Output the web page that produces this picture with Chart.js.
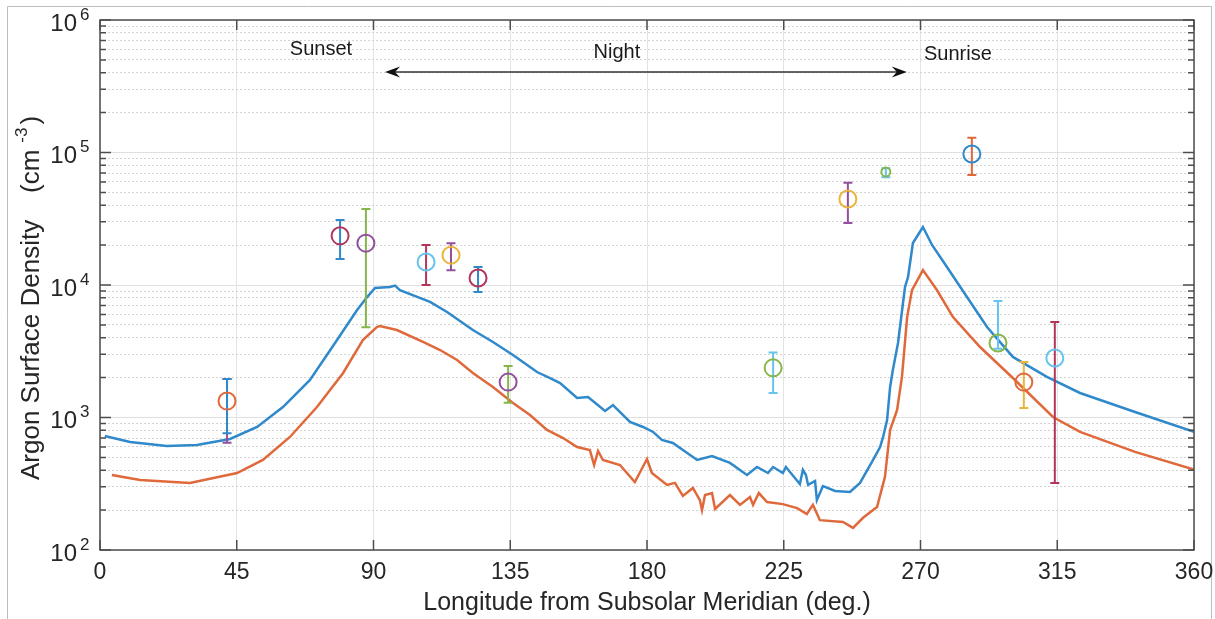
<!DOCTYPE html>
<html>
<head>
<meta charset="utf-8">
<title>Argon Surface Density</title>
<script src="https://cdn.jsdelivr.net/npm/chart.js@4.4.0/dist/chart.umd.min.js"></script>
<style>
  html, body { margin: 0; padding: 0; background: #fff; }
  #wrap { position: relative; width: 1215px; height: 619px; }
</style>
</head>
<body>
<div id="wrap"><canvas id="argonChart" width="1215" height="619"></canvas></div>
<script>
// model curve 1 (blue)
const blueLon = [1.6, 9.9, 22.0, 31.9, 42.8, 51.7, 60.2, 69.1, 78.0, 84.6, 87.9, 90.5, 95.4, 97.1, 98.7,
  108.6, 114.2, 122.7, 129.3, 135.9, 141.5, 143.8, 148.1, 151.4, 157.0, 160.6, 166.2, 168.8, 174.4, 178.7,
  182.0, 184.9, 188.5, 196.5, 201.4, 207.3, 212.9, 216.2, 219.8, 221.5, 224.7, 225.7, 230.3, 231.3, 232.3,
  233.0, 235.3, 235.9, 237.9, 241.9, 246.8, 250.1, 254.4, 256.7, 257.7, 259.0, 260.0, 260.9, 262.6, 264.9,
  265.9, 267.5, 270.8, 273.8, 278.7, 285.3, 291.9, 300.4, 311.6, 322.5, 340.6, 360];
const blueDen = [725, 653, 609, 620, 689, 848, 1199, 1919, 3846, 6470, 8110, 9490, 9660, 9900, 9160,
  7450, 6250, 4570, 3715, 2965, 2404, 2204, 1986, 1820, 1403, 1429, 1120, 1242, 925, 848,
  778, 677, 642, 478, 512, 454, 368, 423, 381, 423, 381, 423, 315, 402, 368,
  310, 332, 238, 304, 279, 274, 321, 478, 598, 713, 957, 1699, 2280, 3648, 9660,
  11480, 20730, 27400, 20050, 13680, 8110, 4820, 2865, 2024, 1531, 1100, 780];

// model curve 2 (orange)
const orangeLon = [3.9, 13.2, 29.6, 45.1, 53.6, 62.5, 71.4, 80.0, 86.5, 91.1, 92.1, 97.7, 106.3, 111.9, 117.5,
  122.7, 129.3, 135.9, 141.5, 147.1, 152.4, 157.0, 161.2, 162.6, 163.9, 165.5, 171.1, 176.0, 180.0, 181.6,
  186.6, 189.2, 191.8, 195.1, 197.4, 198.1, 199.1, 201.4, 202.4, 207.3, 210.6, 213.9, 214.9, 216.8, 219.5,
  224.7, 229.4, 232.6, 234.6, 236.9, 244.5, 247.8, 251.1, 255.7, 258.3, 260.0, 262.3, 263.9, 265.6, 267.2,
  270.8, 275.4, 280.7, 289.6, 300.4, 313.6, 322.5, 340.6, 360];
const orangeDen = [368, 337, 321, 381, 478, 713, 1199, 2168, 3846, 4820, 4910, 4570, 3715, 3230, 2715,
  2168, 1699, 1285, 1045, 805, 700, 598, 568, 438, 559, 478, 438, 326, 486, 381,
  310, 321, 256, 294, 238, 200, 260, 269, 204, 260, 219, 251, 219, 269, 230,
  222, 207, 187, 219, 168, 163, 147, 175, 211, 356, 805, 1140, 2024, 5725, 9160,
  12970, 9160, 5725, 3404, 1986, 1009, 778, 550, 405];

// observations (circles)
const obsLon = [41.8, 79.0, 87.5, 107.3, 115.5, 124.4, 134.3, 221.5, 246.1, 258.6, 286.9, 295.5, 304.0, 314.2];
const obsDen = [1330, 23500, 20700, 14900, 16800, 11300, 1850, 2370, 44600, 71300, 97500, 3650, 1850, 2810];

// error bars
const errLon = [41.8, 41.8, 79.0, 87.5, 107.3, 115.5, 124.4, 134.3, 221.5, 246.1, 258.6, 286.9, 295.5, 304.0, 314.2];
const errLow = [645, 760, 15700, 4800, 10000, 12900, 8850, 1290, 1530, 29400, 65000, 67500, 3300, 1180, 320];
const errHigh = [1950, 1950, 31000, 37500, 20000, 20700, 13700, 2450, 3100, 59000, 76000, 129000, 7570, 2620, 5260];

// axes
const xTicks = [0, 45, 90, 135, 180, 225, 270, 315, 360];
const yPowers = [2, 3, 4, 5, 6];
const supDigits = { 2: '2', 3: '3', 4: '4', 5: '5', 6: '6' };

// styles
const palette = {
  blue: '#2f89cb', orange: '#e0693b', yellow: '#ebb43a', purple: '#92509e',
  green: '#86b64a', cyan: '#66c4ee', darkred: '#b3365a'
};
const obsColor = ['orange', 'darkred', 'purple', 'cyan', 'yellow', 'darkred', 'purple', 'green', 'yellow', 'green', 'blue', 'green', 'orange', 'cyan'];
const errColor = ['purple', 'blue', 'blue', 'green', 'darkred', 'purple', 'blue', 'green', 'cyan', 'purple', 'cyan', 'orange', 'cyan', 'yellow', 'darkred'];

const FONT = "'Liberation Sans', Arial, Helvetica, sans-serif";
const TEXT = '#262626';

const yTickValues = [];
yPowers.forEach(p => {
  if (p === yPowers[yPowers.length - 1]) { yTickValues.push(Math.pow(10, p)); return; }
  for (let m = 1; m <= 9; m++) yTickValues.push(m * Math.pow(10, p));
});
const isMajor = v => yPowers.some(p => v === Math.pow(10, p));

const toPoints = (xs, ys) => xs.map((x, i) => ({ x: x, y: ys[i] }));

const decorations = {
  id: 'decorations',
  beforeDraw(chart) {
    const ctx = chart.ctx;
    ctx.save();
    ctx.fillStyle = '#fff';
    ctx.fillRect(0, 0, chart.width, chart.height);
    // outer frame of the picture
    ctx.strokeStyle = '#bdbdbd';
    ctx.lineWidth = 1;
    ctx.beginPath();
    ctx.moveTo(7.5, chart.height);
    ctx.lineTo(7.5, 6.5);
    ctx.lineTo(1211.5, 6.5);
    ctx.lineTo(1211.5, chart.height);
    ctx.stroke();
    ctx.restore();
  },
  beforeDatasetDraw(chart, args) {
    if (args.index !== 2) return;
    const ctx = chart.ctx;
    const xs = chart.scales.x, ys = chart.scales.y;
    const cap = 4.5;
    ctx.save();
    ctx.lineWidth = 2;
    errLon.forEach((lon, i) => {
      const x = xs.getPixelForValue(lon);
      const y1 = ys.getPixelForValue(errLow[i]);
      const y2 = ys.getPixelForValue(errHigh[i]);
      ctx.strokeStyle = palette[errColor[i]];
      ctx.beginPath();
      ctx.moveTo(x, y1); ctx.lineTo(x, y2);
      ctx.moveTo(x - cap, y1); ctx.lineTo(x + cap, y1);
      ctx.moveTo(x - cap, y2); ctx.lineTo(x + cap, y2);
      ctx.stroke();
    });
    ctx.restore();
  },
  afterDraw(chart) {
    const ctx = chart.ctx;
    const xs = chart.scales.x, ys = chart.scales.y;
    const a = chart.chartArea;
    ctx.save();
    // axis box
    ctx.strokeStyle = '#4d4d4d';
    ctx.lineWidth = 1.5;
    ctx.strokeRect(a.left, a.top, a.right - a.left, a.bottom - a.top);
    // inward ticks
    ctx.beginPath();
    xTicks.forEach(v => {
      const x = xs.getPixelForValue(v);
      ctx.moveTo(x, a.bottom); ctx.lineTo(x, a.bottom - 10);
      ctx.moveTo(x, a.top); ctx.lineTo(x, a.top + 10);
    });
    yTickValues.forEach(v => {
      const y = ys.getPixelForValue(v);
      const len = isMajor(v) ? 11 : 6;
      ctx.moveTo(a.left, y); ctx.lineTo(a.left + len, y);
      ctx.moveTo(a.right, y); ctx.lineTo(a.right - len, y);
    });
    ctx.stroke();

    // y tick labels 10^n
    ctx.fillStyle = TEXT;
    ctx.textBaseline = 'middle';
    yPowers.forEach(p => {
      const y = ys.getPixelForValue(Math.pow(10, p));
      ctx.font = '24px ' + FONT;
      ctx.textAlign = 'right';
      ctx.fillText('10', 77, y + 4);
      ctx.font = '17px ' + FONT;
      ctx.textAlign = 'left';
      ctx.fillText(supDigits[p], 80, y - 5);
    });

    // y axis title
    ctx.save();
    ctx.translate(39, 480);
    ctx.rotate(-Math.PI / 2);
    ctx.textAlign = 'left';
    ctx.textBaseline = 'alphabetic';
    ctx.font = '26px ' + FONT;
    ctx.fillText('Argon Surface Density', 0, 0);
    let px = 287;
    ctx.fillText('(cm', px, 0);
    px += ctx.measureText('(cm').width + 7;
    ctx.font = '17px ' + FONT;
    ctx.fillText('-3', px, -12);
    px += ctx.measureText('-3').width + 3;
    ctx.font = '26px ' + FONT;
    ctx.fillText(')', px, 0);
    ctx.restore();

    // day / night annotations
    ctx.fillStyle = '#1a1a1a';
    ctx.font = '20px ' + FONT;
    ctx.textAlign = 'center';
    ctx.textBaseline = 'middle';
    ctx.fillText('Sunset', xs.getPixelForValue(72.7), ys.getPixelForValue(5.94e5));
    ctx.fillText('Night', xs.getPixelForValue(170.1), ys.getPixelForValue(5.73e5));
    ctx.fillText('Sunrise', xs.getPixelForValue(282.3), ys.getPixelForValue(5.53e5));

    const ay = ys.getPixelForValue(4.05e5);
    const ax1 = xs.getPixelForValue(93.8);
    const ax2 = xs.getPixelForValue(265.5);
    ctx.strokeStyle = '#333';
    ctx.lineWidth = 1.6;
    ctx.beginPath();
    ctx.moveTo(ax1 + 8, ay); ctx.lineTo(ax2 - 8, ay);
    ctx.stroke();
    ctx.fillStyle = '#111';
    ctx.beginPath();
    ctx.moveTo(ax2, ay); ctx.lineTo(ax2 - 15, ay - 5.5); ctx.lineTo(ax2 - 10, ay); ctx.lineTo(ax2 - 15, ay + 5.5); ctx.closePath();
    ctx.moveTo(ax1, ay); ctx.lineTo(ax1 + 15, ay - 5.5); ctx.lineTo(ax1 + 10, ay); ctx.lineTo(ax1 + 15, ay + 5.5); ctx.closePath();
    ctx.fill();
    ctx.restore();
  }
};

new Chart(document.getElementById('argonChart').getContext('2d'), {
  type: 'line',
  data: {
    datasets: [{
      label: 'Model A',
      data: toPoints(blueLon, blueDen),
      borderColor: palette.blue,
      borderWidth: 2.5,
      pointRadius: 0,
      tension: 0,
      fill: false,
      order: 2
    }, {
      label: 'Model B',
      data: toPoints(orangeLon, orangeDen),
      borderColor: palette.orange,
      borderWidth: 2.5,
      pointRadius: 0,
      tension: 0,
      fill: false,
      order: 1
    }, {
      type: 'scatter',
      label: 'Observations',
      data: toPoints(obsLon, obsDen),
      showLine: false,
      pointStyle: 'circle',
      pointRadius: ctx => (ctx.dataIndex === 9 ? 4.5 : 8.5),
      pointBorderWidth: 2,
      pointBackgroundColor: 'rgba(0,0,0,0)',
      pointBorderColor: obsColor.map(k => palette[k]),
      order: 0
    }]
  },
  options: {
    responsive: false,
    animation: false,
    events: [],
    layout: { padding: { left: 0, right: 21, top: 20, bottom: 0 } },
    plugins: { legend: { display: false }, tooltip: { enabled: false } },
    scales: {
      x: {
        type: 'linear',
        min: 0,
        max: 360,
        afterBuildTicks: s => { s.ticks = xTicks.map(v => ({ value: v })); },
        afterFit: s => { s.height = 69; },
        grid: { color: '#e3e3e3', lineWidth: 1, drawTicks: false },
        border: { display: false },
        ticks: { padding: 0, autoSkip: false, maxRotation: 0, color: TEXT, font: { family: FONT, size: 23, lineHeight: 2 } },
        title: {
          display: true,
          text: 'Longitude from Subsolar Meridian (deg.)',
          color: TEXT,
          font: { family: FONT, size: 25 },
          padding: { top: 0, bottom: 1 }
        }
      },
      y: {
        type: 'logarithmic',
        min: 100,
        max: 1e6,
        afterBuildTicks: s => { s.ticks = yTickValues.map(v => ({ value: v })); },
        afterFit: s => { s.width = 100; },
        grid: {
          drawTicks: false,
          lineWidth: 1,
          color: c => (c.tick && isMajor(c.tick.value) ? '#e0e0e0' : '#d3d3d3')
        },
        border: {
          display: false,
          dash: c => (c.tick && !isMajor(c.tick.value) ? [2, 2] : [])
        },
        ticks: { autoSkip: false, padding: 0, callback: () => '' }
      }
    }
  },
  plugins: [decorations]
});
</script>
</body>
</html>
